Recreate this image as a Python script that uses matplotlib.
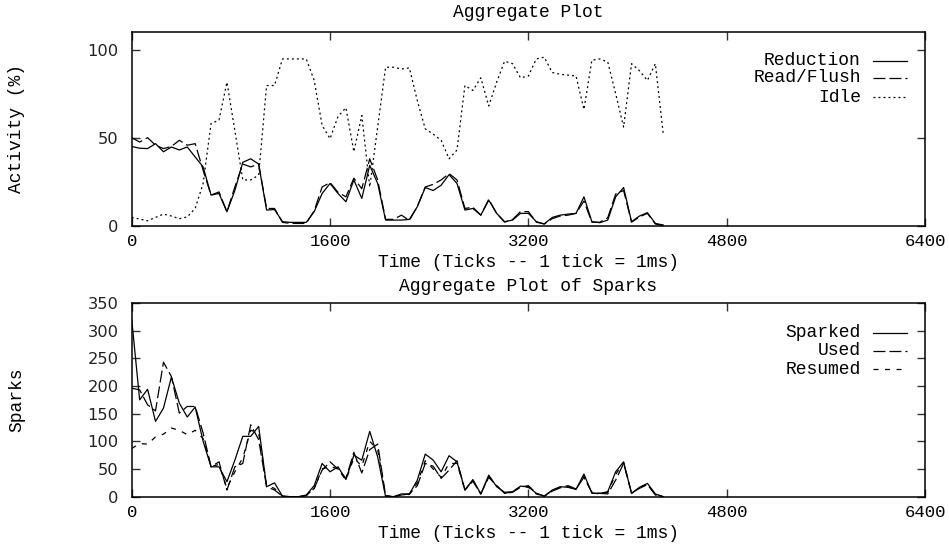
import matplotlib
matplotlib.use('Agg')
import matplotlib.pyplot as plt

# sample times (ticks)
ticks = [0, 64, 128, 192, 256, 320, 384, 448, 512, 576, 640, 704, 768, 832, 896, 960,
         1024, 1088, 1152, 1216, 1280, 1344, 1408, 1472, 1536, 1600, 1664, 1728, 1792,
         1856, 1920, 1984, 2048, 2112, 2176, 2240, 2304, 2368, 2432, 2496, 2560, 2624,
         2688, 2752, 2816, 2880, 2944, 3008, 3072, 3136, 3200, 3264, 3328, 3392, 3456,
         3520, 3584, 3648, 3712, 3776, 3840, 3904, 3968, 4032, 4096, 4160, 4224, 4288]

# activity (%)
reduction = [45, 44, 43.8, 46.6, 42, 44.7, 43, 44.7, 39, 33.4, 17.4, 18.3, 7.9, 20, 36, 38,
             35, 8.9, 9.2, 2.3, 1.9, 1.9, 1.9, 8, 18.3, 24, 18.3, 13.6, 26, 15.5, 34.3, 24,
             3.2, 3.2, 3.2, 3.6, 10.8, 21.7, 20, 23, 29, 24, 8.9, 9.8, 6, 14.5, 7, 2.3,
             3.2, 7, 7, 2.3, 1, 4.7, 6, 6.6, 7, 16.4, 2.3, 1.7, 3.2, 16.4, 21.7, 2.3,
             5.5, 7.4, 1.3, 0.4]
read_flush = [50, 47.5, 50, 45.7, 43.8, 45, 48.5, 45.7, 46.6, 31.5, 17.4, 19.2, 7.9, 22, 35,
              33.4, 35, 9.8, 9.8, 1.9, 1.3, 1.3, 1.3, 8.5, 22, 24.5, 19, 16.4, 27, 21, 38,
              26, 3.6, 3.6, 6, 3, 11, 22, 23.5, 26, 29.6, 26, 9.8, 10.5, 6, 15, 7, 2,
              3.5, 8, 8, 2, 1, 4, 5.5, 6, 7, 14, 2, 2, 4.5, 18, 20, 2, 5, 7, 1, 0]
idle = [4.7, 3.8, 2.8, 4.7, 6.6, 5.5, 4, 5, 9.8, 24, 58, 60, 81.5, 54, 26, 26, 28.7, 79.6,
        79.6, 94.7, 94.7, 94.7, 94.7, 82.5, 57, 49.4, 62, 67, 42, 62.6, 22, 56, 90, 90, 89,
        89.6, 71, 55, 52, 48.5, 38, 43, 79.6, 76.8, 84, 68, 81.5, 93.4, 92, 84, 85, 94.7,
        95.7, 87, 86, 85.5, 85, 66, 94, 94.7, 93, 75, 56, 92, 88, 82.5, 92, 52]

# sparks
sparked = [320, 175, 194, 136, 160, 216, 169, 144, 162, 100, 54, 54, 27, 66, 109, 109, 127,
           18, 25, 1, 0, 0, 3, 20, 60, 45, 54, 31, 75, 66, 118, 72, 0, 0, 5, 5, 30, 77, 66,
           45, 74, 63, 12, 31, 5, 39, 18, 8, 9, 19, 18, 6, 1, 12, 18, 17, 13, 41, 6, 6, 9,
           45, 63, 6, 17, 24, 5, 0]
used = [196, 193, 166, 155, 243, 217, 151, 163, 163, 115, 54, 63, 12, 54, 60, 130, 103, 18,
        12, 1, 0, 0, 2, 15, 48, 63, 50, 33, 80, 43, 85, 95, 2, 0, 3, 5, 20, 60, 55, 33, 48,
        65, 12, 28, 5, 35, 20, 6, 8, 17, 20, 6, 1, 10, 16, 20, 14, 35, 8, 6, 5, 30, 60, 7,
        15, 22, 3, 0]
resumed = [87, 96, 95, 108, 113, 124, 120, 112, 120, 105, 55, 58, 15, 45, 70, 120, 115, 20,
           15, 1, 0, 0, 2, 15, 50, 55, 50, 30, 70, 55, 100, 85, 2, 0, 3, 4, 25, 65, 50, 35,
           60, 60, 12, 30, 5, 37, 20, 6, 9, 18, 17, 5, 1, 11, 17, 18, 13, 38, 7, 5, 8, 40,
           62, 6, 16, 23, 4, 0]

x_ticks = [0, 1600, 3200, 4800, 6400]

plt.rcParams['lines.scale_dashes'] = False
mono = 'Liberation Mono'

LONG = (0, (8.6, 2.9))
DOT = (0, (1.4, 2.2))
SHORT = (0, (3.6, 4.7))

fig = plt.figure(figsize=(9.49, 5.46), dpi=100)
ax1 = fig.add_axes([0.1388, 0.5866, 0.836, 0.3548])
ax2 = fig.add_axes([0.1388, 0.0903, 0.836, 0.3548])


def style_axes(ax, ymax, yticks, title, title_y, ylabel):
    ax.set_xlim(0, 6400)
    ax.set_ylim(0, ymax)
    ax.set_xticks(x_ticks)
    ax.set_yticks(yticks)
    ax.tick_params(direction='in', length=5.8, width=1, top=True, right=True,
                   color='#333333')
    ax.tick_params(axis='x', pad=6)
    ax.tick_params(axis='y', pad=9.4)
    for lab in ax.get_xticklabels():
        lab.set_fontfamily(mono)
        lab.set_fontsize(12.5)
    for lab in ax.get_yticklabels():
        lab.set_fontfamily('DejaVu Sans')
        lab.set_fontsize(11.7)
        lab.set_color('#222222')
    for sp in ax.spines.values():
        sp.set_linewidth(1.1)
    ax.set_xlabel('Time (Ticks -- 1 tick = 1ms)', family=mono, fontsize=13, va='center')
    ax.xaxis.set_label_coords(0.5, -0.19)
    ax.set_ylabel(ylabel, family=mono, fontsize=13, va='center')
    ax.yaxis.set_label_coords(-0.1452, 0.5)
    ax.set_title(title, family=mono, fontsize=13, y=title_y, va='center', pad=0)


def legend_entry(ax, label, ypos, ls):
    ax.text(0.919, ypos, label, transform=ax.transAxes, ha='right', va='center',
            family=mono, fontsize=13)
    ax.plot([0.9345, 0.9773], [ypos, ypos], transform=ax.transAxes, color='black',
            lw=0.9, linestyle=ls, clip_on=False)


# top: activity
ax1.plot(ticks, reduction, color='black', lw=0.9, linestyle='-')
ax1.plot(ticks, read_flush, color='black', lw=0.9, linestyle=LONG)
ax1.plot(ticks, idle, color='black', lw=0.9, linestyle=DOT)
style_axes(ax1, 110, [0, 50, 100], 'Aggregate Plot', 1.103, 'Activity (%)')
legend_entry(ax1, 'Reduction', 0.852, '-')
legend_entry(ax1, 'Read/Flush', 0.763, LONG)
legend_entry(ax1, 'Idle', 0.663, DOT)

# bottom: sparks
ax2.plot(ticks, sparked, color='black', lw=0.9, linestyle='-')
ax2.plot(ticks, used, color='black', lw=0.9, linestyle=LONG)
ax2.plot(ticks, resumed, color='black', lw=0.9, linestyle=SHORT)
style_axes(ax2, 350, [0, 50, 100, 150, 200, 250, 300, 350], 'Aggregate Plot of Sparks',
           1.084, 'Sparks')
legend_entry(ax2, 'Sparked', 0.847, '-')
legend_entry(ax2, 'Used', 0.754, LONG)
legend_entry(ax2, 'Resumed', 0.658, SHORT)

fig.savefig('out.png', dpi=100)
